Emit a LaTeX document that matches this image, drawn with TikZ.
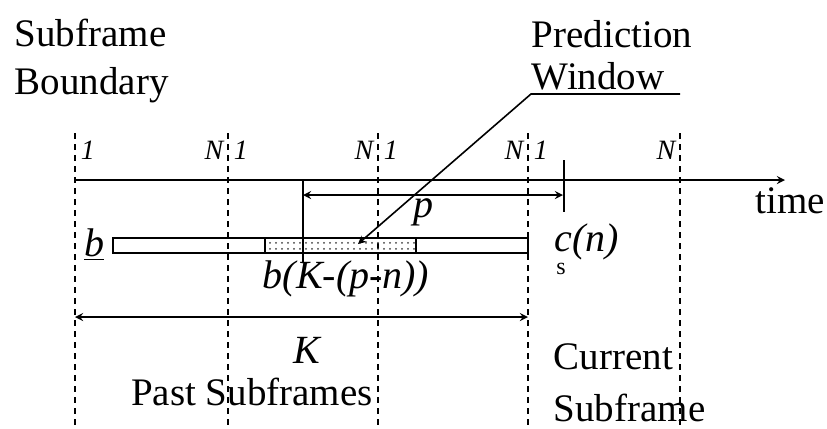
\documentclass[tikz,border=0pt]{standalone}
\usepackage{fontspec}
\setmainfont{Liberation Serif}
\usetikzlibrary{patterns}
\tikzset{
  boundary/.style={dashed, dash pattern=on 3pt off 2.5pt, semithick},
  idxlabel/.style={font=\fontsize{14}{16}\selectfont\itshape, inner sep=1pt},
  symlabel/.style={font=\fontsize{20}{24}\selectfont\itshape, inner sep=1pt},
  txtlabel/.style={font=\fontsize{19.5}{24}\selectfont, inner sep=0pt, align=left}
}
\begin{document}
\begin{tikzpicture}[x=0.5pt, y=-0.5pt, >=stealth, thick]
  \useasboundingbox (0,0) rectangle (827,429);
  % 子帧边界
  \foreach \x/\name in {75/bd0, 228/bd1, 378/bd2, 528/bd3, 680/bd4}{
    \coordinate (\name-top) at (\x,133);
    \coordinate (\name-bot) at (\x,425);
    \draw[boundary] (\name-top) -- (\name-bot);
  }
  \foreach \x in {75, 228, 378, 528}
    \node[idxlabel, right] at (\x+3,150) {1};
  \foreach \x in {228, 378, 528, 680}
    \node[idxlabel, left] at (\x-2,150) {N};

  % 时间轴
  \coordinate (t0) at (75,180);
  \coordinate (t1) at (785,180);
  \draw[->] (t0) -- (t1);
  \node[txtlabel, anchor=base east] (time) at (826,213) {time};

  % 预测窗口 p
  \coordinate (pL) at (303,195);
  \coordinate (pR) at (563,195);
  \draw (303,180) -- (303,262);
  \draw (564,160) -- (564,212);
  \draw[<->] (pL) -- (pR);
  \node[symlabel] (p) at (424,212) {p};

  % 码本矢量 b
  \fill[pattern=dots, pattern color=black!75] (265,238) rectangle (416,253);
  \draw (113,238) rectangle (528,253);
  \draw (265,238) -- (265,253);
  \draw (416,238) -- (416,253);
  \node[symlabel] (b) at (94,245) {\underline{b}};
  \node[symlabel] (bk) at (346,279) {b(K-(p-n))};
  \node[symlabel, anchor=base west, inner sep=0pt, text depth=0pt] (cs) at (554,251) {c(n)};
  \node[font=\fontsize{12}{13}\selectfont, inner sep=0pt] (cs-sub) at (561,269) {s};

  % 长度 K
  \coordinate (kL) at (75,317);
  \coordinate (kR) at (528,317);
  \draw[<->] (kL) -- (kR);
  \node[symlabel] (K) at (307,350) {K};
  \node[txtlabel] (past) at (252,392) {Past Subframes};
  \node[txtlabel, anchor=west] (cur) at (553,383) {Current\\[2pt]Subframe};

  % 标题文字
  \node[txtlabel, anchor=west] (sb) at (14,61) {Subframe\\Boundary};
  \node[txtlabel, anchor=west] (pw) at (531,55) {Prediction\\[-3pt]Window};
  \coordinate (lead0) at (680,94);
  \coordinate (lead1) at (531,94);
  \coordinate (lead2) at (358,244);
  \draw[->] (lead0) -- (lead1) -- (lead2);
\end{tikzpicture}
\end{document}
